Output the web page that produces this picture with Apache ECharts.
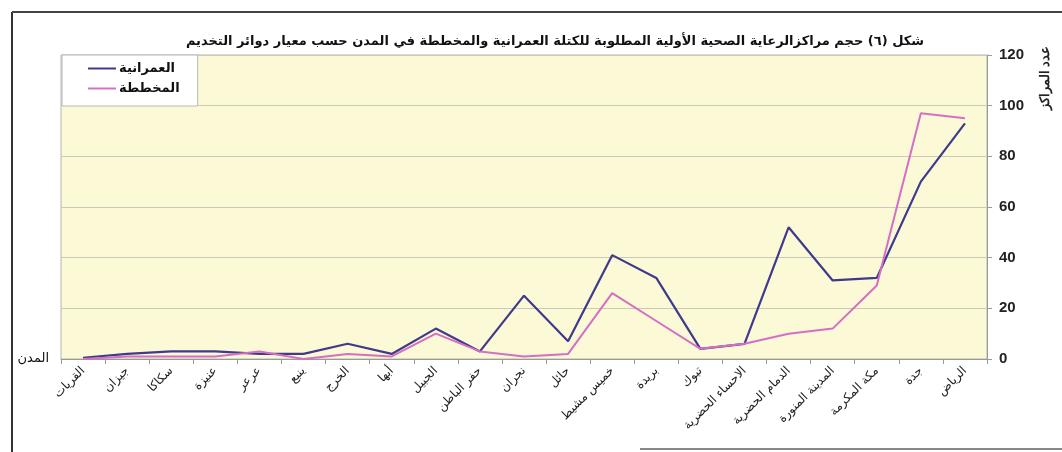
<!DOCTYPE html>
<html>
<head>
<meta charset="utf-8">
<script src="https://cdn.jsdelivr.net/npm/echarts@6/dist/echarts.min.js"></script>
<style>
html,body{margin:0;padding:0;background:#fff;}
#c{width:1062px;height:452px;}
</style>
</head>
<body>
<div id="c"></div>
<script>
const titleText = 'شكل (٦) حجم مراكزالرعاية الصحية الأولية المطلوبة للكتلة العمرانية والمخططة في المدن حسب معيار دوائر التخديم';
const categories = ['القريات','جيزان','سكاكا','عنيزة','عرعر','ينبع','الخرج','أبها','الجبيل','حفر الباطن','نجران','حائل','خميس مشيط','بريدة','تبوك','الاحساء الحضرية','الدمام الحضرية','المدينة المنورة','مكة المكرمة','جدة','الرياض'];
const seriesNames = ['العمرانية','المخططة'];
const urbanValues = [0.5, 2, 3, 3, 2, 2, 6, 2, 12, 3, 25, 7, 41, 32, 4, 6, 52, 31, 32, 70, 93];
const plannedValues = [0, 1, 1, 1, 3, 0, 2, 1, 10, 3, 1, 2, 26, 15, 4, 6, 10, 12, 29, 97, 95];
const yTicks = [0, 20, 40, 60, 80, 100, 120];
const xAxisName = 'المدن';
const yAxisName = 'عدد المراكز';

const chart = echarts.init(document.getElementById('c'));
const font = '"DejaVu Sans", "Liberation Sans", Arial, sans-serif';
chart.setOption({
  animation: false,
  backgroundColor: '#ffffff',
  textStyle: { fontFamily: font },
  title: {
    text: titleText,
    left: 550, top: 30, textAlign: 'center',
    textStyle: { fontSize: 13, fontWeight: 'bold', color: '#111', fontFamily: font }
  },
  legend: {
    orient: 'vertical',
    left: 62, top: 55,
    padding: [7, 18, 11, 26],
    itemGap: 7,
    backgroundColor: '#ffffff',
    borderColor: '#b8b8b8', borderWidth: 1,
    icon: 'rect', itemWidth: 28, itemHeight: 2,
    textStyle: { fontSize: 13, fontWeight: 'bold', color: '#111', fontFamily: font, padding: [0,0,0,-2] },
    data: seriesNames
  },
  grid: {
    left: 61, right: 75, top: 55, bottom: 93,
    show: true, backgroundColor: '#FBF9D6', borderColor: '#b5b5b0', borderWidth: 1
  },
  xAxis: {
    type: 'category',
    data: categories,
    boundaryGap: true,
    name: xAxisName,
    nameLocation: 'start',
    nameGap: 12,
    nameTextStyle: { fontSize: 13, color: '#111', fontFamily: font, verticalAlign: 'middle' },
    axisLine: { lineStyle: { color: '#9a9a9a' } },
    axisTick: { show: true, alignWithLabel: false, length: 5, lineStyle: { color: '#9a9a9a' } },
    axisLabel: { rotate: 45, interval: 0, fontSize: 12, color: '#222', margin: 10, fontFamily: font },
    splitLine: { show: false }
  },
  yAxis: {
    type: 'value',
    position: 'right',
    min: yTicks[0], max: yTicks[yTicks.length - 1], interval: 20,
    axisLine: { show: true, lineStyle: { color: '#9a9a9a' } },
    axisTick: { show: true, length: 5, lineStyle: { color: '#9a9a9a' } },
    axisLabel: { fontSize: 15, fontWeight: 'bold', color: '#222', margin: 12, fontFamily: '"Liberation Sans", Arial, sans-serif' },
    splitLine: { show: true, lineStyle: { color: '#cbc9b8', width: 1 } }
  },
  graphic: [
    { type: 'line', shape: { x1: 12, y1: 12, x2: 12, y2: 452 }, style: { stroke: '#333', lineWidth: 2 } },
    { type: 'line', shape: { x1: 12, y1: 12, x2: 1062, y2: 12 }, style: { stroke: '#444', lineWidth: 2 } },
    { type: 'line', shape: { x1: 640, y1: 449, x2: 1062, y2: 449 }, style: { stroke: '#555', lineWidth: 2, opacity: 0.7 } },
    { type: 'text', x: 1045, y: 78, rotation: Math.PI / 2,
      style: { text: yAxisName, fontSize: 13, fontWeight: 'bold', fill: '#222', align: 'center', verticalAlign: 'middle', font: 'bold 13px ' + font } }
  ],
  series: [
    { name: seriesNames[0], type: 'line', data: urbanValues, symbol: 'none',
      lineStyle: { color: '#3F3A8C', width: 2.2 }, itemStyle: { color: '#3F3A8C' } },
    { name: seriesNames[1], type: 'line', data: plannedValues, symbol: 'none',
      lineStyle: { color: '#D46FC4', width: 2 }, itemStyle: { color: '#D46FC4' } }
  ]
});
</script>
</body>
</html>
